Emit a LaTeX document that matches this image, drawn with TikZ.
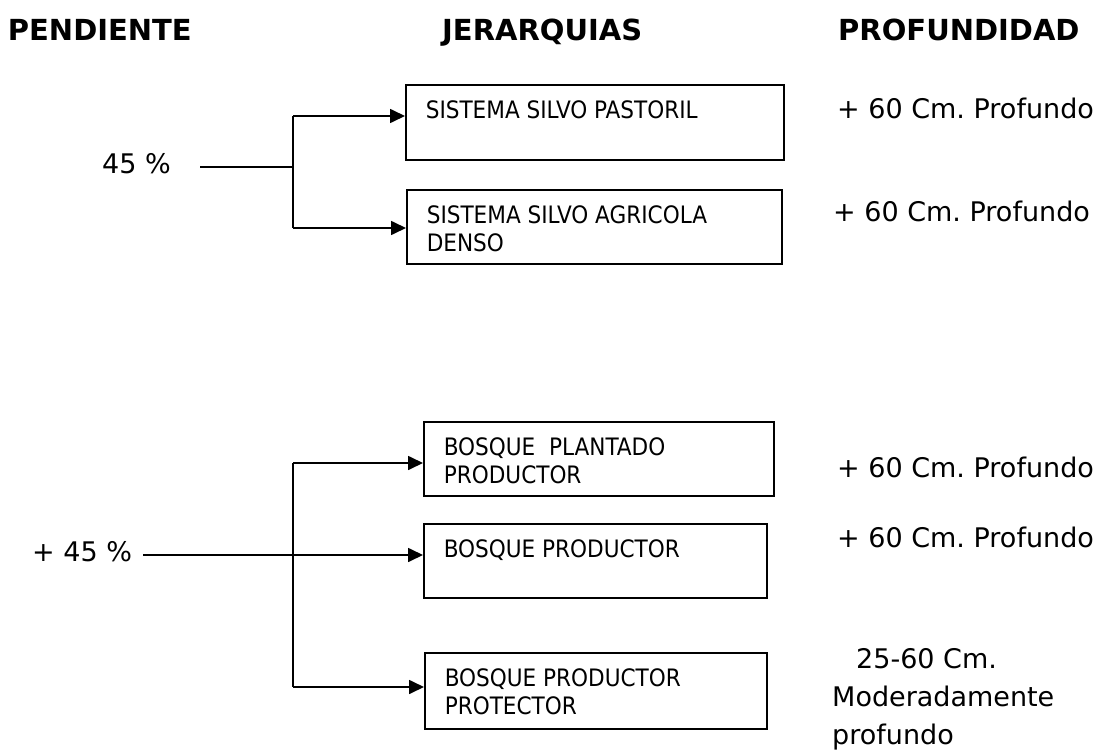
\documentclass[tikz,border=0pt]{standalone}
\usepackage{fontspec}
\setmainfont{DejaVu Sans}
\newfontfamily\boxfont{DejaVu Sans Condensed}
\usetikzlibrary{arrows.meta}
\frenchspacing

% box contents: height, width, text
\newcommand{\jbox}[3]{\parbox[t][#1][t]{#2}{\raggedright #3}}

\begin{document}
\begin{tikzpicture}[x=1bp,y=-1bp,
    box/.style={draw,line width=1.6bp,anchor=north west,inner xsep=20bp,inner ysep=16bp,
      font=\boxfont\fontsize{24bp}{28bp}\selectfont},
    head/.style={anchor=base west,inner sep=0pt,font=\bfseries\fontsize{29bp}{34bp}\selectfont},
    txt/.style={anchor=base west,inner sep=0pt,font=\fontsize{27bp}{38bp}\selectfont},
    conn/.style={line width=1.7bp},
    arr/.style={conn,-{Triangle[length=15bp,width=14bp]}}]
  \useasboundingbox (0,0) rectangle (1103,752);

  % column titles
  \node[head,anchor=base east] (hpend) at (192,41) {PENDIENTE};
  \node[head] (hjer)  at (442,41) {JERARQUIAS};
  \node[head] (hprof) at (838,41) {PROFUNDIDAD};

  % slope up to 45
  \node[txt] (p1) at (102,173) {45 \%};
  \node[box] (b1) at (405,84)  {\jbox{43bp}{338bp}{SISTEMA SILVO PASTORIL}};
  \node[box] (b2) at (406,189) {\jbox{42bp}{335bp}{SISTEMA SILVO AGRICOLA\\DENSO}};
  \node[txt] (d1) at (837,118) {+ 60 Cm. Profundo};
  \node[txt] (d2) at (833,221) {+ 60 Cm. Profundo};

  \coordinate (s1) at (200,167);
  \coordinate (j1) at (293,167);
  \coordinate (t1) at (293,116);
  \coordinate (u1) at (293,228);
  \draw[conn] (s1) -- (j1);
  \draw[conn] (t1) -- (u1);
  \draw[arr] (t1) -- (t1 -| b1.west);
  \draw[arr] (u1) -- (u1 -| b2.west);

  % slope over 45
  \node[txt] (p2) at (32,561) {+ 45 \%};
  \node[box] (bA) at (423,421) {\jbox{42bp}{310bp}{BOSQUE\ \ PLANTADO\\PRODUCTOR}};
  \node[box] (bB) at (423,523) {\jbox{42bp}{303bp}{BOSQUE PRODUCTOR}};
  \node[box] (bC) at (424,652) {\jbox{44bp}{302bp}{BOSQUE PRODUCTOR\\PROTECTOR}};
  \node[txt] (dA) at (837,477) {+ 60 Cm. Profundo};
  \node[txt] (dB) at (837,547) {+ 60 Cm. Profundo};
  \node[txt] (dC) at (832,668) {\parbox[t]{260bp}{\hspace*{24bp}25-60 Cm.\\Moderadamente\\profundo}};

  \coordinate (s2) at (143,555);
  \coordinate (t2) at (293,463);
  \coordinate (u2) at (293,687);
  \draw[conn] (t2) -- (u2);
  \draw[arr] (s2) -- (s2 -| bB.west);
  \draw[arr] (t2) -- (t2 -| bA.west);
  \draw[arr] (u2) -- (u2 -| bC.west);
\end{tikzpicture}
\end{document}
